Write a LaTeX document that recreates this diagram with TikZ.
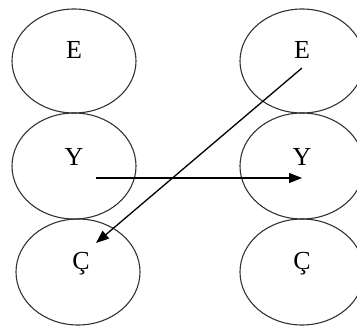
\documentclass[tikz,border=0pt]{standalone}
\usepackage{fontspec}
\setmainfont{Liberation Serif}
\usetikzlibrary{arrows.meta}
\begin{document}
\begin{tikzpicture}[x=1pt,y=-1pt,
  blob/.style={draw,line width=1.1pt,black!80},
  lbl/.style={font=\fontsize{26}{28}\selectfont,inner sep=0pt,anchor=center},
  arr/.style={line width=1.3pt,-{Triangle[length=13pt,width=10pt]}}]
\useasboundingbox (0,0) rectangle (357,327);
\draw[blob] (74,61) ellipse [x radius=62,y radius=52];
\draw[blob] (74,166) ellipse [x radius=62,y radius=53];
\draw[blob] (78,272) ellipse [x radius=62,y radius=53];
\draw[blob] (302,61) ellipse [x radius=62,y radius=52];
\draw[blob] (302,166) ellipse [x radius=62,y radius=53];
\draw[blob] (302,272) ellipse [x radius=62,y radius=53];
\node[lbl] (e1) at (74,50) {E};
\node[lbl] (y1) at (74,157) {Y};
\node[lbl] (c1) at (81,264) {Ç};
\node[lbl] (e2) at (302,50) {E};
\node[lbl] (y2) at (302,157) {Y};
\node[lbl] (c2) at (302,264) {Ç};
\coordinate (ys) at (96,178);
\coordinate (ye) at (302,178);
\coordinate (es) at (302,68);
\coordinate (ce) at (96,243);
\draw[arr] (ys) -- (ye);
\draw[arr] (es) -- (ce);
\end{tikzpicture}
\end{document}
